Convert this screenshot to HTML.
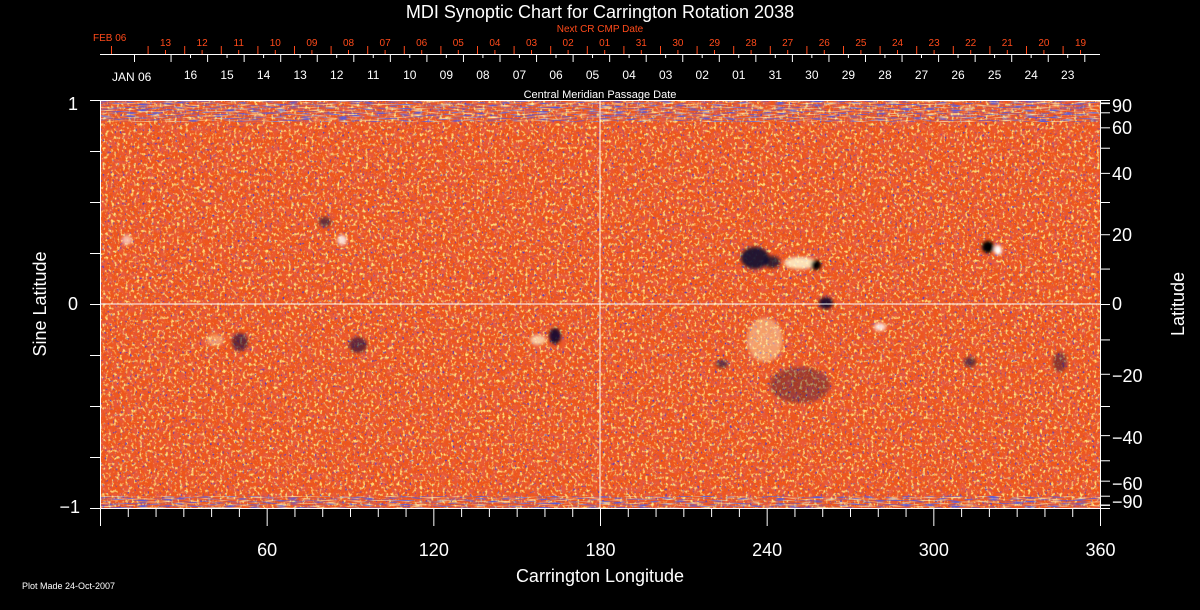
<!DOCTYPE html>
<html><head><meta charset="utf-8"><style>
html,body{margin:0;padding:0;background:#000;width:1200px;height:610px;overflow:hidden}
svg text{font-family:"Liberation Sans",sans-serif}
</style></head><body>
<svg width="1200" height="610" viewBox="0 0 1200 610" xmlns="http://www.w3.org/2000/svg">
<defs>
<filter id="nz" x="0" y="0" width="100%" height="100%">
<feTurbulence type="fractalNoise" baseFrequency="0.35 0.3" numOctaves="2" seed="3" result="t"/>
<feColorMatrix in="t" type="matrix" values="0 0 0 0 1  0 0 0 0 0.75  0 0 0 0 0.2  4 0 0 0 -2.1" />
</filter>
<filter id="nz2" x="0" y="0" width="100%" height="100%">
<feTurbulence type="fractalNoise" baseFrequency="0.4 0.35" numOctaves="2" seed="11" result="t"/>
<feColorMatrix in="t" type="matrix" values="0 0 0 0 0.1  0 0 0 0 0.05  0 0 0 0 0.55  0 5 0 0 -3.2" />
</filter>
<filter id="nz3" x="0" y="0" width="100%" height="100%">
<feTurbulence type="fractalNoise" baseFrequency="0.15 0.15" numOctaves="2" seed="7" result="t"/>
<feColorMatrix in="t" type="matrix" values="0 0 0 0 0.8  0 0 0 0 0.1  0 0 0 0 0.05  0 0 3 0 -1.2" />
</filter>
<filter id="pol" x="0" y="0" width="100%" height="100%">
<feTurbulence type="fractalNoise" baseFrequency="0.08 0.7" numOctaves="1" seed="5" result="t"/>
<feColorMatrix in="t" type="matrix" values="0 0 0 0 1  0 0 0 0 0.95  0 0 0 0 0.5  3 0 0 0 -1.5" />
</filter>
<filter id="pol2" x="0" y="0" width="100%" height="100%">
<feTurbulence type="fractalNoise" baseFrequency="0.08 0.7" numOctaves="1" seed="9" result="t"/>
<feColorMatrix in="t" type="matrix" values="0 0 0 0 0.1  0 0 0 0 0.1  0 0 0 0 0.7  4 0 0 0 -2" />
</filter>
<filter id="bl"><feGaussianBlur stdDeviation="1.5"/></filter>
</defs>

<text x="600" y="18" fill="#fff" font-size="18" text-anchor="middle">MDI Synoptic Chart for Carrington Rotation 2038</text>
<text x="600" y="32" fill="#ff4a1a" font-size="10" text-anchor="middle">Next CR CMP Date</text>
<text x="600" y="98" fill="#fff" font-size="11" text-anchor="middle">Central Meridian Passage Date</text>

<rect x="100" y="100" width="1000" height="408" fill="#ee561c"/>
<rect x="100" y="100" width="1000" height="408" filter="url(#nz3)"/>
<rect x="100" y="100" width="1000" height="408" filter="url(#nz)"/>
<rect x="100" y="100" width="1000" height="408" filter="url(#nz2)"/>
<svg x="100" y="100" width="1000" height="22"><rect width="1000" height="22" filter="url(#pol)"/><rect width="1000" height="22" filter="url(#pol2)"/></svg>
<svg x="100" y="496" width="1000" height="12"><rect width="1000" height="12" filter="url(#pol)"/><rect width="1000" height="12" filter="url(#pol2)"/></svg>

<g filter="url(#bl)">
<ellipse cx="755" cy="258" rx="14" ry="11" fill="#0a0a30" opacity="0.9"/>
<ellipse cx="772" cy="262" rx="8" ry="6" fill="#0a0a30" opacity="0.8"/>
<ellipse cx="800" cy="263" rx="16" ry="6" fill="#fff8d0" opacity="0.85"/>
<ellipse cx="816" cy="265" rx="5" ry="5" fill="#000"/>
<ellipse cx="765" cy="340" rx="18" ry="22" fill="#fff6c0" opacity="0.45"/>
<ellipse cx="800" cy="385" rx="30" ry="18" fill="#101040" opacity="0.3"/>
<ellipse cx="826" cy="303" rx="7" ry="6" fill="#000030" opacity="0.85"/>
<ellipse cx="880" cy="327" rx="6" ry="4" fill="#fff" opacity="0.8"/>
<ellipse cx="988" cy="247" rx="6" ry="6" fill="#000"/>
<ellipse cx="998" cy="250" rx="4" ry="5" fill="#fff"/>
<ellipse cx="555" cy="336" rx="6" ry="8" fill="#000030" opacity="0.85"/>
<ellipse cx="538" cy="340" rx="8" ry="5" fill="#fff8d0" opacity="0.7"/>
<ellipse cx="358" cy="345" rx="9" ry="8" fill="#0a0a40" opacity="0.55"/>
<ellipse cx="240" cy="342" rx="8" ry="9" fill="#0a0a40" opacity="0.55"/>
<ellipse cx="215" cy="340" rx="9" ry="6" fill="#fff6c0" opacity="0.4"/>
<ellipse cx="342" cy="240" rx="5" ry="5" fill="#fff" opacity="0.8"/>
<ellipse cx="325" cy="222" rx="6" ry="5" fill="#101040" opacity="0.6"/>
<ellipse cx="127" cy="240" rx="5" ry="5" fill="#fff" opacity="0.6"/>
<ellipse cx="970" cy="362" rx="6" ry="5" fill="#101040" opacity="0.6"/>
<ellipse cx="1060" cy="362" rx="7" ry="10" fill="#101040" opacity="0.4"/>
<ellipse cx="722" cy="364" rx="6" ry="4" fill="#101040" opacity="0.6"/>
</g>
<line x1="600" y1="100" x2="600" y2="508" stroke="#fff" stroke-width="1"/>
<line x1="100" y1="304" x2="1100" y2="304" stroke="#fff" stroke-width="1"/>
<line x1="100.5" y1="100" x2="100.5" y2="509" stroke="#fff"/>
<line x1="1100.5" y1="100" x2="1100.5" y2="509" stroke="#fff"/>
<line x1="90" y1="100.5" x2="1110" y2="100.5" stroke="#fff"/>
<line x1="90" y1="508.5" x2="1101" y2="508.5" stroke="#fff"/>

<g id="ax" stroke="#fff" stroke-width="1"></g>
<g id="tx" fill="#fff" font-size="18"></g>

<text x="93" y="41" fill="#ff4a1a" font-size="10">FEB 06</text>
<text x="112" y="81" fill="#fff" font-size="12">JAN 06</text>
<line x1="100" y1="54.5" x2="1100" y2="54.5" stroke="#fff"/>

<text x="40" y="310" fill="#fff" font-size="18" text-anchor="middle" transform="rotate(-90 40 304)">Sine Latitude</text>
<text x="1178" y="310" fill="#fff" font-size="18" text-anchor="middle" transform="rotate(-90 1178 304)">Latitude</text>
<text x="600" y="582" fill="#fff" font-size="18" text-anchor="middle">Carrington Longitude</text>
<text x="22" y="589" fill="#fff" font-size="9">Plot Made 24-Oct-2007</text>
</svg>
<script>
const ns="http://www.w3.org/2000/svg",ax=document.getElementById('ax'),tx=document.getElementById('tx');
function L(x1,y1,x2,y2,c){const l=document.createElementNS(ns,'line');l.setAttribute('x1',x1);l.setAttribute('y1',y1);l.setAttribute('x2',x2);l.setAttribute('y2',y2);if(c)l.setAttribute('stroke',c);ax.appendChild(l);}
function T(x,y,s,a,sz,c){const t=document.createElementNS(ns,'text');t.setAttribute('x',x);t.setAttribute('y',y);t.setAttribute('text-anchor',a||'middle');if(sz)t.setAttribute('font-size',sz);if(c)t.setAttribute('fill',c);t.textContent=s;tx.appendChild(t);}
for(let d=0;d<=360;d+=10){const x=100+d*1000/360+0.5;const maj=d%60==0;L(x,509,x,maj?526:517);if(maj&&d>0)T(x,556,String(d));}
[1,0.75,0.5,0.25,0,-0.25,-0.5,-0.75,-1].forEach(s=>{const y=304-s*204+0.5;L(90,y,100,y);});
T(78,110,'1','end');T(78,310,'0','end');T(80,513,'\u22121','end');
for(let a=-90;a<=90;a+=10){const y=304-Math.sin(a*Math.PI/180)*204+0.5;L(1100,y,1110,y);}
L(1100,103,1110,103);L(1100,505,1110,505);
[[90,112],[60,134],[40,180],[20,241],[0,310],[-20,382],[-40,444],[-60,490],[-90,508]].forEach(([a,y])=>T(1112,y,a<0?'\u2212'+(-a):String(a),'start'));
const ol=['13','12','11','10','09','08','07','06','05','04','03','02','01','31','30','29','28','27','26','25','24','23','22','21','20','19'];
for(let i=0;i<27;i++){const x=111+i*36.6+0.5;if(x<1101)L(x,46,x,54,'#ff4a1a');}
ol.forEach((s,i)=>{const x=165+i*36.6+0.5;L(x,50,x,54,'#ff4a1a');T(x,46,s,'middle',10,'#ff4a1a');});
const wl=['16','15','14','13','12','11','10','09','08','07','06','05','04','03','02','01','31','30','29','28','27','26','25','24','23'];
for(let i=0;i<27;i++){const x=134+i*36.55+0.5;if(x<1101)L(x,54,x,62);}
wl.forEach((s,i)=>{const x=190+i*36.55+0.5;L(x,54,x,58);T(x,79,s,'middle',12);});
</script>
</body></html>
